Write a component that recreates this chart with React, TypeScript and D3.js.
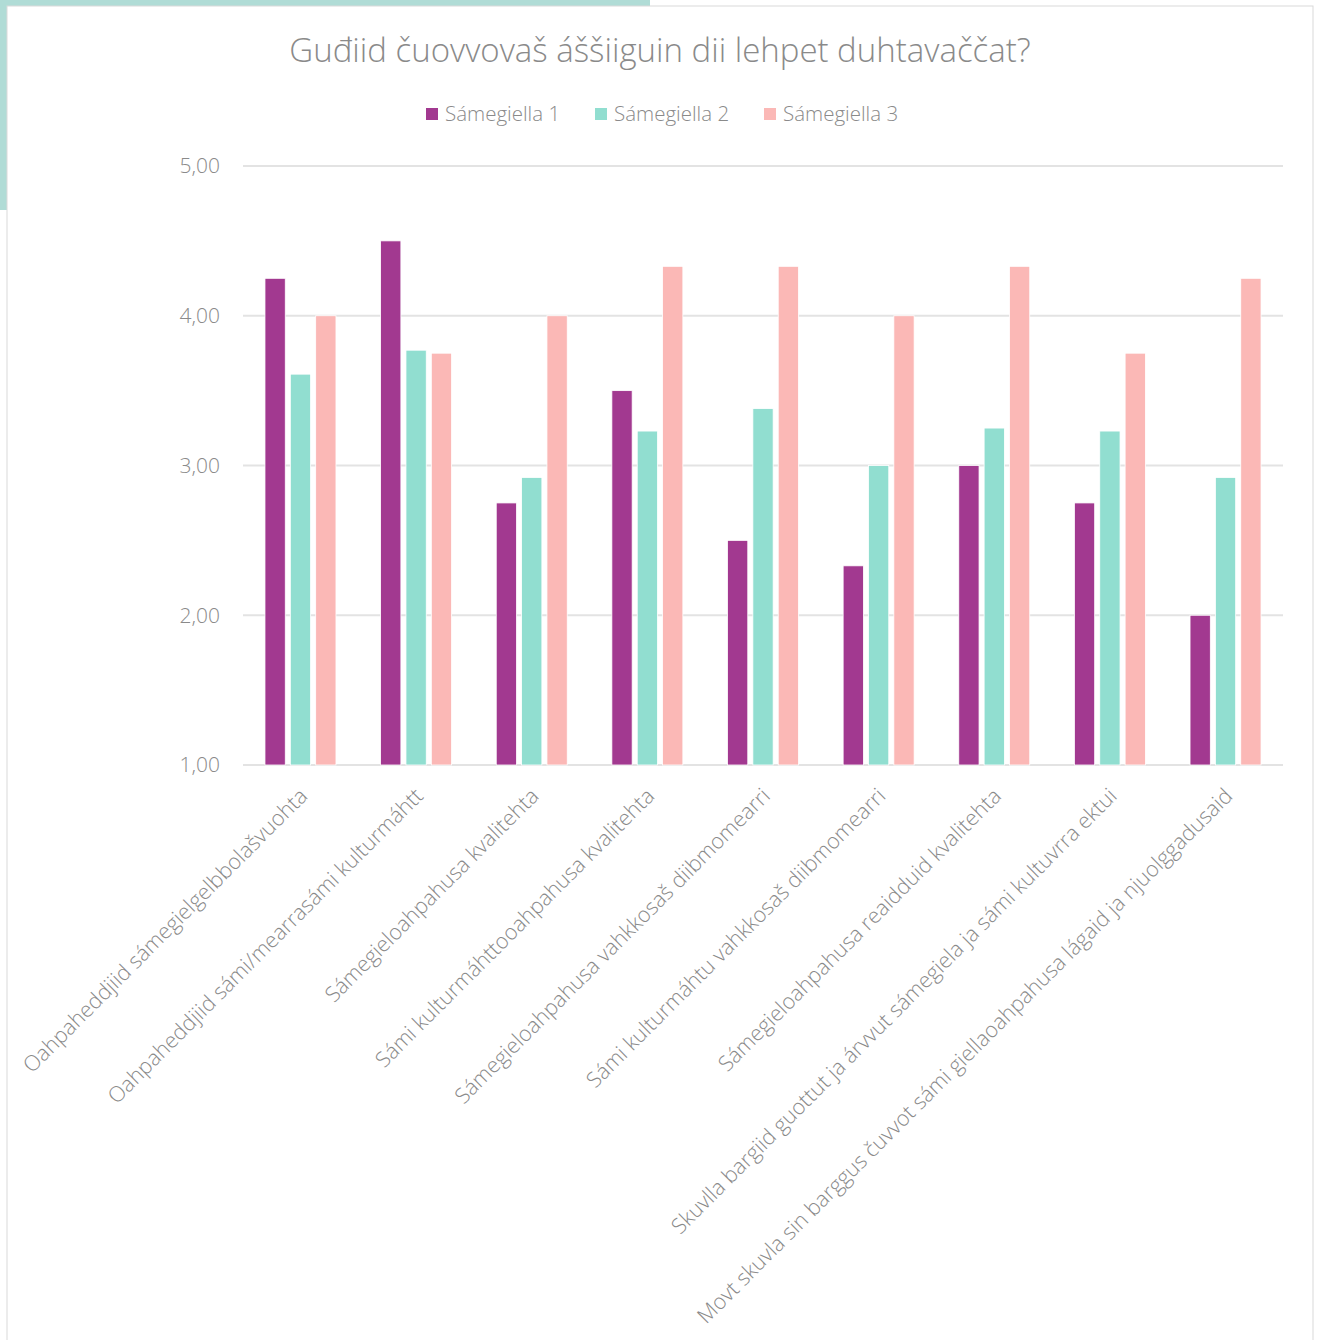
import * as d3 from 'd3';
import React from 'react';

const WIDTH = 1317;
const HEIGHT = 1340;
const MARGIN = { top: 166, right: 34, bottom: 575, left: 243 };

const TITLE = 'Guđiid čuovvovaš áššiiguin dii lehpet duhtavaččat?';

const categories = [
  'Oahpaheddjiid sámegielgelbbolašvuohta',
  'Oahpaheddjiid sámi/mearrasámi kulturmáhtt',
  'Sámegieloahpahusa kvalitehta',
  'Sámi kulturmáhttooahpahusa kvalitehta',
  'Sámegieloahpahusa vahkkosaš diibmomearri',
  'Sámi kulturmáhtu vahkkosaš diibmomearri',
  'Sámegieloahpahusa reaidduid kvalitehta',
  'Skuvlla bargiid guottut ja árvvut sámegiela ja sámi kultuvrra ektui',
  'Movt skuvla sin barggus čuvvot sámi giellaoahpahusa lágaid ja njuolggadusaid',
];

const seriesNames = ['Sámegiella 1', 'Sámegiella 2', 'Sámegiella 3'];
const seriesColors = ['#a23990', '#91ded0', '#fbb8b6'];

const sami1 = [4.25, 4.5, 2.75, 3.5, 2.5, 2.33, 3.0, 2.75, 2.0];
const sami2 = [3.61, 3.77, 2.92, 3.23, 3.38, 3.0, 3.25, 3.23, 2.92];
const sami3 = [4.0, 3.75, 4.0, 4.33, 4.33, 4.0, 4.33, 3.75, 4.25];
const seriesValues = [sami1, sami2, sami3];

const yTicks = [1, 2, 3, 4, 5];

const TEXT_COLOR = '#8a8a8a';
const FONT = '"Open Sans", sans-serif';

export default function App() {
  const boundsWidth = WIDTH - MARGIN.left - MARGIN.right;
  const boundsHeight = HEIGHT - MARGIN.top - MARGIN.bottom;

  const x0 = d3
    .scaleBand<string>()
    .domain(categories)
    .range([0, boundsWidth])
    .paddingInner(0.386)
    .paddingOuter(0.19);

  const x1 = d3
    .scaleBand<string>()
    .domain(seriesNames)
    .range([0, x0.bandwidth()])
    .paddingInner(0.2);

  const y = d3.scaleLinear().domain([1, 5]).range([boundsHeight, 0]);

  const fmt = (v: number) => d3.format('.2f')(v).replace('.', ',');

  // legend layout
  const legendX = [426, 595, 764];

  return (
    <svg
      width={WIDTH}
      height={HEIGHT}
      style={{ position: 'absolute', left: 0, top: 0, background: '#fff' }}
      fontFamily={FONT}
    >
      <rect x={0} y={0} width={650} height={210} fill="#b0dcd6" />
      <rect x={7} y={6} width={1306} height={1345} fill="#fff" stroke="#d9d9d9" strokeWidth={1} />

      <text x={660} y={62} textAnchor="middle" fontSize={33} fontWeight={300} fill={TEXT_COLOR}>
        {TITLE}
      </text>

      {seriesNames.map((name, i) => (
        <g key={name} transform={`translate(${legendX[i]},0)`}>
          <rect x={0} y={108} width={12} height={12} fill={seriesColors[i]} />
          <text x={19} y={121} fontSize={20.5} fontWeight={300} fill={TEXT_COLOR}>
            {name}
          </text>
        </g>
      ))}

      <g transform={`translate(${MARGIN.left},${MARGIN.top})`}>
        {yTicks.map(t => (
          <g key={t}>
            <line x1={0} x2={boundsWidth} y1={y(t)} y2={y(t)} stroke="#e3e3e3" strokeWidth={2} />
            <text
              x={-23}
              y={y(t)}
              dy="0.35em"
              textAnchor="end"
              fontSize={21}
              fontWeight={300}
              fill={TEXT_COLOR}
            >
              {fmt(t)}
            </text>
          </g>
        ))}

        {categories.map((cat, ci) => (
          <g key={cat} transform={`translate(${x0(cat)},0)`}>
            {seriesNames.map((s, si) => {
              const v = seriesValues[si][ci];
              return (
                <rect
                  key={s}
                  x={x1(s)}
                  y={y(v)}
                  width={x1.bandwidth()}
                  height={y(1) - y(v)}
                  fill={seriesColors[si]}
                  stroke="#fff"
                  strokeWidth={0.8}
                />
              );
            })}
          </g>
        ))}

        {categories.map(cat => {
          const cx = (x0(cat) ?? 0) + x0.bandwidth() / 2;
          return (
            <text
              key={cat}
              transform={`translate(${cx + 3},${boundsHeight + 27}) rotate(-45)`}
              textAnchor="end"
              dy="0.35em"
              fontSize={21.5}
              fontWeight={300}
              fill={TEXT_COLOR}
            >
              {cat}
            </text>
          );
        })}
      </g>
    </svg>
  );
}
